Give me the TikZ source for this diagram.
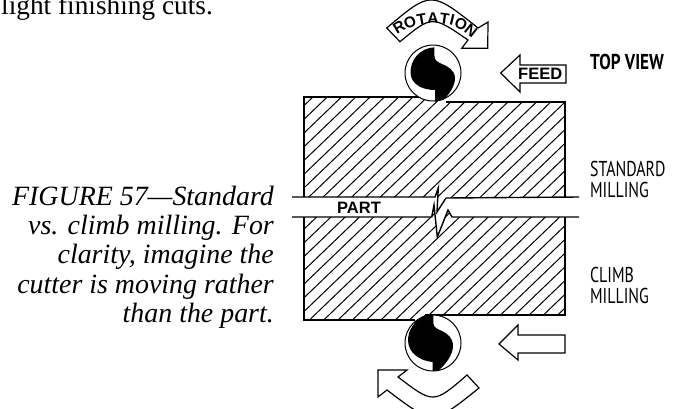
\documentclass[tikz,border=0pt]{standalone}
\usepackage{fontspec}
\setmainfont{Liberation Serif}
\setsansfont{Liberation Sans}
\newfontfamily\condfont{PT Sans}
\tikzset{
  caption/.style={anchor=base east,inner sep=0pt,font=\itshape\fontsize{27.9}{29}\selectfont},
  sidelabel/.style={anchor=base west,inner sep=0pt,xscale=0.74,font=\condfont\fontsize{21.5}{22}\selectfont},
  stamp/.style={anchor=base west,inner sep=0pt,font=\sffamily\bfseries\fontsize{16.5}{17}\selectfont},
  rotletter/.style={anchor=center,inner sep=0pt,font=\sffamily\bfseries\fontsize{15.5}{16}\selectfont},
  outline/.style={draw=black,line width=1.2pt,fill=white,line join=miter},
  edge/.style={draw=black,line width=2.2pt},
  thin edge/.style={draw=black,line width=1.4pt,line join=miter},
  hatch/.style={draw=black,line width=1pt},
  cutter/.style={draw=black,line width=1pt,fill=white}
}
\begin{document}
\begin{tikzpicture}[x=1pt,y=-1pt]
\useasboundingbox (0,0) rectangle (676,408);
% text
\node[anchor=base east,inner sep=0pt,font=\fontsize{27.3}{29}\selectfont] (toptext) at (213,14) {light finishing cuts.};
\node[caption] (c1) at (274,205) {FIGURE 57—Standard};
\node[caption] (c2) at (274,234) {vs. climb milling. For};
\node[caption] (c3) at (274,263) {clarity, imagine the};
\node[caption] (c4) at (274,293) {cutter is moving rather};
\node[caption] (c5) at (274,322) {than the part.};
% hatching
\begin{scope}
\clip (304,97) -- (417,97) -- (447,102) -- (565,102) -- (565,197) -- (446,198) -- (437,212) -- (438.3,188) -- (435,197) -- (304,197) -- cycle
      (304,217) -- (431.7,217) -- (434,205) -- (437.3,237) -- (448,210) -- (452,217) -- (565,217) -- (565,315) -- (425,315) -- (412,320) -- (304,320) -- cycle;
\foreach \c in {0,...,37}{
  \draw[hatch] ({305.9+\c*14.3},90) -- ({55.9+\c*14.3},330);
}
\end{scope}
% part outline
\draw[edge] (304,96) -- (304,197) (304,217) -- (304,321);
\draw[edge] (565,101) -- (565,197) (565,217) -- (565,316);
\draw[thin edge] (303,97) -- (420,97) (446,102) -- (566,102);
\draw[edge] (303,320) -- (415,320) (425,315) -- (566,315);
\draw[thin edge] (292,197) -- (435,197) -- (438.3,188) -- (437,212) -- (446,198) -- (579,197);
\draw[thin edge] (292,217) -- (431.7,217) -- (434,205) -- (437.3,237) -- (448,210) -- (452,217) -- (579,217);
\node[stamp] (part) at (337,213) {PART};
% top cutter
\draw[cutter] (433,73) circle (28);
\fill[black] (434.3,47.3) .. controls (420,48) and (410,60) .. (410.5,73) .. controls (411,84) and (422,90) .. (435,90) -- (435,101.7) -- (443,100) .. controls (449,95) and (455,86) .. (455,78) .. controls (455,70) and (447,66) .. (442,64) .. controls (437,62) and (434.3,60) .. (434.3,55) -- cycle;
% bottom cutter
\draw[cutter] (433,343) circle (28);
\fill[black] (433.3,315) -- (433.3,323) .. controls (433.3,328) and (438,329) .. (442,331) .. controls (448,334) and (453,338) .. (453,346) .. controls (453,355) and (445,365) .. (439,370) -- (432.7,371) -- (432.7,362) .. controls (420,361) and (408,353) .. (408,340) .. controls (408,330) and (415,320) .. (425,315) -- cycle;
% top rotation arrow
\draw[outline] (386.7,28) .. controls (431,-9.4) .. (478,28) -- (488,22) -- (487.7,48.3) -- (461.7,48.3) -- (468,40) .. controls (432,15.2) .. (400,41.7) -- cycle;
\node[rotletter,rotate=30] (r1) at (399,27.5) {R};
\node[rotletter,rotate=20] (r2) at (410,22.7) {O};
\node[rotletter,rotate=10] (r3) at (421.7,19.5) {T};
\node[rotletter,rotate=0] (r4) at (433,18.3) {A};
\node[rotletter,rotate=-8] (r5) at (444.5,18.6) {T};
\node[rotletter,rotate=-14] (r6) at (452.3,20.3) {I};
\node[rotletter,rotate=-24] (r7) at (461,23.8) {O};
\node[rotletter,rotate=-38] (r8) at (471,30.5) {N};
% feed arrow top
\draw[outline] (500.7,73) -- (520,55) -- (520,65) -- (566,65) -- (566,83) -- (520,83) -- (520,92) -- cycle;
\node[stamp] (feed) at (518,79.5) {FEED};
% bottom rotation arrow
\draw[outline] (378,370) -- (407,370) -- (398,377) .. controls (433.5,404) .. (467,375) -- (479,388) .. controls (433,425) .. (387,390) -- (378,397) -- cycle;
% feed arrow bottom
\draw[outline] (499,344) -- (518,325) -- (518,335) -- (565,335) -- (565,353) -- (518,353) -- (518,360) -- cycle;
% side labels
\node[sidelabel,xscale=1.08,font=\condfont\bfseries\fontsize{21.5}{22}\selectfont] (topview) at (590,69) {TOP VIEW};
\node[sidelabel] (std) at (590,176) {STANDARD};
\node[sidelabel] (m1) at (590,197) {MILLING};
\node[sidelabel] (climb) at (590,282) {CLIMB};
\node[sidelabel] (m2) at (590,303) {MILLING};
\end{tikzpicture}
\end{document}
